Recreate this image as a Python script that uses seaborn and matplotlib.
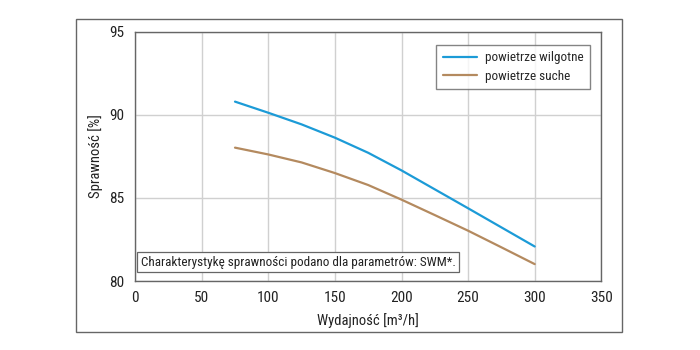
import numpy as np
import pandas as pd
import matplotlib
matplotlib.use("Agg")
import matplotlib.pyplot as plt
import seaborn as sns
from matplotlib.patches import Rectangle

# ----------------------------
# Data
# ----------------------------
flow = [75, 100, 125, 150, 175, 200, 225, 250, 275, 300]
eff_wet = [90.80, 90.13, 89.43, 88.63, 87.72, 86.66, 85.52, 84.38, 83.23, 82.08]
eff_dry = [88.03, 87.62, 87.14, 86.50, 85.78, 84.90, 83.97, 83.03, 82.03, 81.02]
series_names = ["powietrze wilgotne", "powietrze suche"]
series_colors = ["#1c9bd7", "#b48a5f"]

x_ticks = [0, 50, 100, 150, 200, 250, 300, 350]
y_ticks = [80, 85, 90, 95]
note = "Charakterystykę sprawności podano dla parametrów: SWM*."

df = pd.DataFrame({
    "flow": flow * 2,
    "eff": eff_wet + eff_dry,
    "series": [series_names[0]] * len(flow) + [series_names[1]] * len(flow),
})

# ----------------------------
# Plot
# ----------------------------
sns.set_style("white")
plt.rcParams["font.family"] = ["Roboto Condensed", "Liberation Sans Narrow", "DejaVu Sans"]
plt.rcParams["font.stretch"] = "condensed"

fig = plt.figure(figsize=(7, 3.5), dpi=100)
ax = fig.add_axes([0.193, 0.197, 0.666, 0.712])

# outer frame around the whole chart
fig.patches.append(Rectangle((0.108, 0.051), 0.781, 0.895, transform=fig.transFigure,
                             fill=False, edgecolor="#666666", linewidth=1.0))

sns.lineplot(data=df, x="flow", y="eff", hue="series", palette=series_colors,
             hue_order=series_names, linewidth=1.6, ax=ax)

ax.set_xlim(0, 350)
ax.set_ylim(80, 95)
ax.set_xticks(x_ticks)
ax.set_yticks(y_ticks)
ax.grid(True, color="#d0d0d0", linewidth=1.0)
ax.set_axisbelow(True)
for s in ax.spines.values():
    s.set_color("#666666")
    s.set_linewidth(1.0)
ax.tick_params(axis="y", length=0, labelsize=11, pad=8, colors="#222222")
ax.tick_params(axis="x", length=0, labelsize=11, pad=7, colors="#222222")

ax.set_xlabel("Wydajność [m³/h]", fontsize=10.5, color="#222222", labelpad=6)
ax.set_ylabel("Sprawność [%]", fontsize=10.5, color="#222222", labelpad=4)

leg = ax.legend(loc="upper right", bbox_to_anchor=(0.99, 0.975), fontsize=9.5,
                frameon=True, fancybox=False, edgecolor="#666666",
                handlelength=2.6, handletextpad=0.6, borderpad=0.5, labelspacing=0.4)
leg.get_frame().set_linewidth(1.0)

ax.text(0.012, 0.05, note, transform=ax.transAxes, fontsize=9.5, color="#222222",
        va="bottom", ha="left",
        bbox=dict(boxstyle="square,pad=0.25", facecolor="white", edgecolor="#666666",
                  linewidth=0.9))

fig.savefig("out.png", dpi=100)
